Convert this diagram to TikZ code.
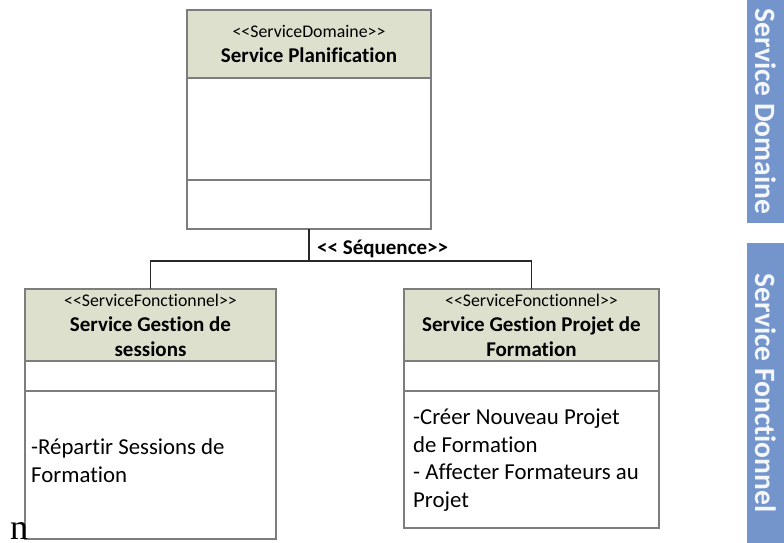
\documentclass[tikz,border=0pt]{standalone}
\usepackage{fontspec}
\usepackage{tikz}
\usetikzlibrary{positioning}
\newfontfamily\calibri[Ligatures=NoCommon]{Carlito}
\newfontfamily\timesn{Liberation Serif}
\definecolor{uHead}{RGB}{221,224,205}
\definecolor{uLine}{RGB}{125,125,125}
\definecolor{uSide}{RGB}{115,149,204}
\definecolor{uLink}{RGB}{40,40,40}
\tikzset{
classhead/.style={rectangle,draw=uLine,fill=uHead,line width=1.4pt,outer sep=0pt,inner sep=0pt,align=center,font=\calibri\bfseries\fontsize{21}{25}\selectfont},
classpart/.style={rectangle,draw=uLine,fill=white,line width=1.4pt,outer sep=0pt,inner sep=0pt},
optext/.style={anchor=base west,inner sep=0pt,align=left,font=\calibri\fontsize{22.8}{27.5}\selectfont},
sidebar/.style={rectangle,fill=uSide,rotate=-90,minimum height=37pt,text=white!92!uSide,font=\calibri\bfseries\fontsize{29.5}{29.5}\selectfont},
link/.style={line width=1.4pt,draw=uLink}
}
\newcommand{\stereo}[1]{{\mdseries\fontsize{17.8}{25}\selectfont #1}}

\begin{document}
\begin{tikzpicture}[x=1pt,y=-1pt]
\useasboundingbox (0,0) rectangle (784,543);
% service domaine
\node[classhead,anchor=north west,minimum width=244pt,minimum height=68pt] (planhead) at (187,10) {\stereo{<{}<ServiceDomaine>{}>}\\Service Planification};
\node[classpart,below=0pt of planhead,minimum width=244pt,minimum height=102pt] (planattr) {};
\node[classpart,below=0pt of planattr,minimum width=244pt,minimum height=49pt] (planops) {};
% services fonctionnels
\node[classhead,anchor=north west,minimum width=251pt,minimum height=72pt] (sesshead) at (25,289) {\stereo{<{}<ServiceFonctionnel>{}>}\\Service Gestion de\\sessions};
\node[classpart,below=0pt of sesshead,minimum width=251pt,minimum height=30pt] (sessattr) {};
\node[classpart,below=0pt of sessattr,minimum width=251pt,minimum height=148pt] (sessops) {};
% base = derniere ligne
\node[optext] (sesstxt) at ([shift={(6,91)}]sessops.north west) {-Répartir Sessions de\\Formation};

\node[classhead,anchor=north west,minimum width=255pt,minimum height=72pt] (projhead) at (404,289) {\stereo{<{}<ServiceFonctionnel>{}>}\\Service Gestion Projet de\\Formation};
\node[classpart,below=0pt of projhead,minimum width=255pt,minimum height=30pt] (projattr) {};
\node[classpart,below=0pt of projattr,minimum width=255pt,minimum height=137pt] (projops) {};
\node[optext] (projtxt) at ([shift={(9,116)}]projops.north west) {-Créer Nouveau Projet\\de Formation\\- Affecter Formateurs au\\Projet};

% sequence
\coordinate (fork) at ([yshift=-32pt]planops.south);
\draw[link] (planops.south) -- (fork);
\draw[link] (fork) -| (sesshead.north);
\draw[link] (fork) -| (projhead.north);
\node[anchor=base west,inner sep=0pt,font=\calibri\bfseries\fontsize{21}{21}\selectfont] (seqlbl) at (317,254) {<{}< Séquence>{}>};

% bandeaux
\node[sidebar,minimum width=223pt] (domside) at (765.5,111.5) {Service Domaine};
\node[sidebar,minimum width=300pt] (foncside) at (765.5,393) {Service Fonctionnel};

\node[anchor=base west,inner sep=0pt,font=\timesn\fontsize{36}{36}\selectfont] (nmark) at (10,539) {n};
\end{tikzpicture}
\end{document}
